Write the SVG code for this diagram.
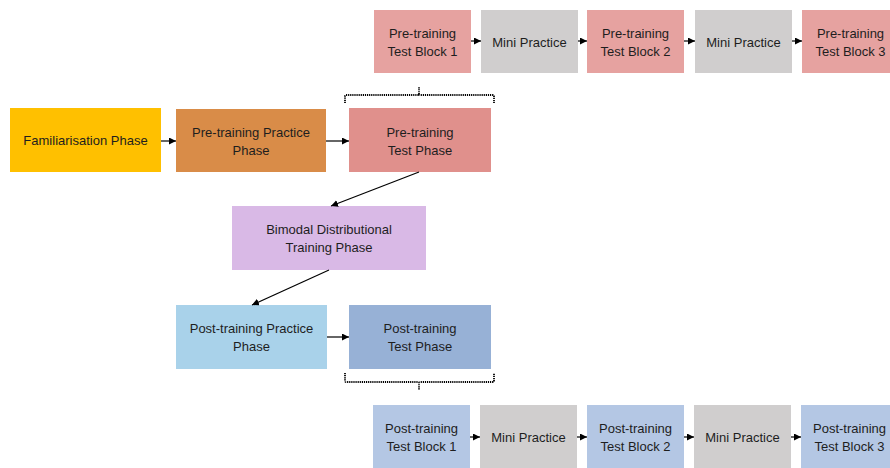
<svg xmlns="http://www.w3.org/2000/svg" width="890" height="468" viewBox="0 0 890 468">
<defs>
<marker id="ah" viewBox="0 0 10 10" refX="10" refY="5" markerWidth="7" markerHeight="7" markerUnits="userSpaceOnUse" orient="auto">
<path d="M0,0 L10,5 L0,10 z" fill="#000"/>
</marker>
<style>
text{font-family:"Liberation Sans",Arial,sans-serif;font-size:13px;fill:#1e1e1e;text-anchor:middle}
.c{stroke:#000;stroke-width:1.2;fill:none;marker-end:url(#ah)}
.br{stroke:#000;stroke-width:1.8;fill:none;stroke-dasharray:1.2 0.9}
.pre{fill:#e6a2a0}
.mini{fill:#d0cece}
.post{fill:#b4c7e4}
</style>
</defs>
<rect width="890" height="468" fill="#fff"/>

<g id="fam"><rect x="10" y="108" width="151" height="64" fill="#ffc000"/><text x="85.5" y="144.5">Familiarisation Phase</text></g>
<g id="prePractice"><rect x="176" y="109" width="150" height="63" fill="#d98c48"/><text x="251" y="136.5">Pre-training Practice</text><text x="251" y="154.5">Phase</text></g>
<g id="preTest"><rect x="349" y="108" width="142" height="64" fill="#e0908c"/><text x="420" y="136.5">Pre-training</text><text x="420" y="154.5">Test Phase</text></g>
<g id="bimodal"><rect x="232" y="206" width="194" height="64" fill="#d9b9e6"/><text x="329" y="233.5">Bimodal Distributional</text><text x="329" y="251.5">Training Phase</text></g>
<g id="postPractice"><rect x="176" y="305" width="151" height="64" fill="#a9d2ea"/><text x="251.5" y="332.5">Post-training Practice</text><text x="251.5" y="350.5">Phase</text></g>
<g id="postTest"><rect x="349" y="305" width="142" height="64" fill="#97b1d6"/><text x="420" y="332.5">Post-training</text><text x="420" y="350.5">Test Phase</text></g>

<g id="preB1"><rect class="pre" x="374" y="10" width="97" height="63"/><text x="422.5" y="38">Pre-training</text><text x="422.5" y="56">Test Block 1</text></g>
<g id="preM1"><rect class="mini" x="481" y="10" width="97" height="63"/><text x="529.5" y="47">Mini Practice</text></g>
<g id="preB2"><rect class="pre" x="587" y="10" width="97" height="63"/><text x="635.5" y="38">Pre-training</text><text x="635.5" y="56">Test Block 2</text></g>
<g id="preM2"><rect class="mini" x="695" y="10" width="97" height="63"/><text x="743.5" y="47">Mini Practice</text></g>
<g id="preB3"><rect class="pre" x="802" y="10" width="97" height="63"/><text x="850.5" y="38">Pre-training</text><text x="850.5" y="56">Test Block 3</text></g>

<g id="postB1"><rect class="post" x="373" y="405" width="97" height="63"/><text x="421.5" y="433">Post-training</text><text x="421.5" y="451">Test Block 1</text></g>
<g id="postM1"><rect class="mini" x="480" y="405" width="97" height="63"/><text x="528.5" y="442">Mini Practice</text></g>
<g id="postB2"><rect class="post" x="587" y="405" width="97" height="63"/><text x="635.5" y="433">Post-training</text><text x="635.5" y="451">Test Block 2</text></g>
<g id="postM2"><rect class="mini" x="694" y="405" width="97" height="63"/><text x="742.5" y="442">Mini Practice</text></g>
<g id="postB3"><rect class="post" x="801" y="405" width="97" height="63"/><text x="849.5" y="433">Post-training</text><text x="849.5" y="451">Test Block 3</text></g>

<g id="connectors">
<line class="c" x1="161" y1="141" x2="176" y2="141"/>
<line class="c" x1="326" y1="141" x2="349" y2="141"/>
<line class="c" x1="419" y1="172" x2="331" y2="206"/>
<line class="c" x1="329" y1="270" x2="252" y2="305"/>
<line class="c" x1="327" y1="337" x2="349" y2="337"/>
<line class="c" x1="471" y1="41" x2="481" y2="41"/>
<line class="c" x1="578" y1="41" x2="587" y2="41"/>
<line class="c" x1="684" y1="41" x2="695" y2="41"/>
<line class="c" x1="792" y1="41" x2="802" y2="41"/>
<line class="c" x1="470" y1="437" x2="480" y2="437"/>
<line class="c" x1="577" y1="437" x2="587" y2="437"/>
<line class="c" x1="684" y1="437" x2="694" y2="437"/>
<line class="c" x1="791" y1="437" x2="801" y2="437"/>
<path class="br" d="M345,103 V96 Q345,95 346,95 H418 Q419,95 419,94 V87 M419,94 Q419,95 420,95 H493 Q494,95 494,96 V103"/>
<path class="br" d="M345,373 V381 Q345,382 346,382 H418 Q419,382 419,383 V390 M419,383 Q419,382 420,382 H493 Q494,382 494,381 V373"/>
</g>
</svg>
